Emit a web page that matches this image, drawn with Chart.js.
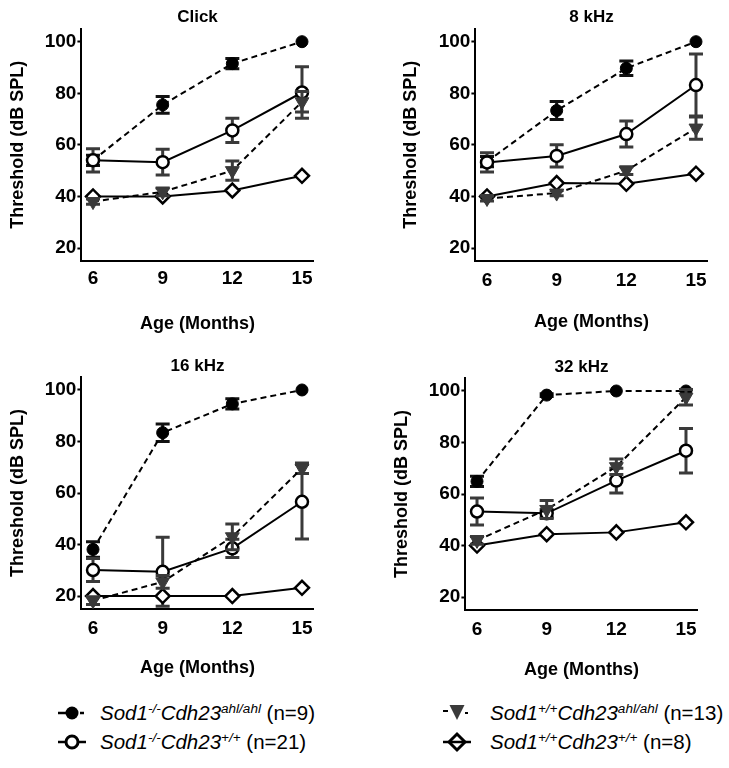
<!DOCTYPE html>
<html><head><meta charset="utf-8">
<script src="https://cdn.jsdelivr.net/npm/chart.js@4.4.1/dist/chart.umd.min.js"></script>
<style>
html,body{margin:0;padding:0;background:#fff;width:729px;height:768px;overflow:hidden;position:relative;font-family:"Liberation Sans",Arial,sans-serif}
canvas{position:absolute;display:block}
.lt{position:absolute;font-size:20.5px;line-height:24px;white-space:nowrap;color:#000}
.lt i{font-style:italic}
.lt sup{font-size:66%;position:relative;top:-0.5em;vertical-align:baseline;font-style:italic;line-height:0}
.lm{position:absolute}
</style></head><body>
<canvas id="c1" width="364" height="345" style="left:0;top:0"></canvas>
<canvas id="c2" width="365" height="345" style="left:364px;top:0"></canvas>
<canvas id="c3" width="364" height="345" style="left:0;top:340px"></canvas>
<canvas id="c4" width="365" height="345" style="left:364px;top:340px"></canvas>

<svg class="lm" style="left:52px;top:701px" width="40" height="24" viewBox="-20 -12 40 24">
  <line x1="-14" y1="0" x2="-6" y2="0" stroke="#000" stroke-width="2.5"/>
  <line x1="8" y1="0" x2="12" y2="0" stroke="#000" stroke-width="2.5"/>
  <circle cx="0" cy="0" r="6.5" fill="#000"/>
</svg>
<div class="lt" style="left:100px;top:701px"><i>Sod1</i><sup>-/-</sup><i>Cdh23</i><sup>ahl/ahl</sup> (n=9)</div>

<svg class="lm" style="left:52px;top:730px" width="40" height="24" viewBox="-20 -12 40 24">
  <line x1="-14" y1="0" x2="14" y2="0" stroke="#000" stroke-width="2.5"/>
  <circle cx="0" cy="0" r="6" fill="#fff" stroke="#000" stroke-width="3"/>
</svg>
<div class="lt" style="left:100px;top:730px"><i>Sod1</i><sup>-/-</sup><i>Cdh23</i><sup>+/+</sup> (n=21)</div>

<svg class="lm" style="left:437px;top:701px" width="40" height="24" viewBox="-20 -12 40 24">
  <line x1="-14" y1="-2" x2="-9" y2="-2" stroke="#000" stroke-width="2"/>
  <line x1="8" y1="0" x2="11" y2="0" stroke="#000" stroke-width="2"/>
  <polygon points="-7.5,-8 7.5,-8 0,7" fill="#3a3a3a"/>
</svg>
<div class="lt" style="left:490px;top:701px"><i>Sod1</i><sup>+/+</sup><i>Cdh23</i><sup>ahl/ahl</sup> (n=13)</div>

<svg class="lm" style="left:437px;top:730px" width="40" height="24" viewBox="-20 -12 40 24">
  <polygon points="-8,0 0,-8 8,0 0,8" fill="#fff" stroke="#000" stroke-width="3"/>
  <line x1="-14" y1="0" x2="14" y2="0" stroke="#000" stroke-width="2.5"/>
</svg>
<div class="lt" style="left:490px;top:730px"><i>Sod1</i><sup>+/+</sup><i>Cdh23</i><sup>+/+</sup> (n=8)</div>

<script>
// ---- data ----
const months = [6, 9, 12, 15];
const yTicks = [20, 40, 60, 80, 100];
const panelTitles = ['Click', '8 kHz', '16 kHz', '32 kHz'];

// Click
const clickKoAhl = [54, 75.5, 91.5, 100];
const clickKoAhlErr = [2, 3.2, 2, 0];
const clickKoWt = [54, 53.3, 65.6, 80.3];
const clickKoWtErr = [4.5, 5, 4.7, 10];
const clickWtAhl = [38, 41.8, 50, 76.7];
const clickWtAhlErr = [1, 1.5, 3.7, 4];
const clickWtWt = [40, 40, 42.3, 48];
const clickWtWtErr = [0, 0, 0, 0];

// 8 kHz
const k8KoAhl = [53.5, 73.3, 89.7, 100];
const k8KoAhlErr = [2, 3.5, 2.8, 0];
const k8KoWt = [53.2, 55.7, 64.2, 83.2];
const k8KoWtErr = [3.7, 4.3, 5, 12];
const k8WtAhl = [39.2, 41.3, 50, 66.5];
const k8WtAhlErr = [1, 1, 1.5, 4.3];
const k8WtWt = [40, 45.2, 44.9, 48.8];
const k8WtWtErr = [0, 0, 0, 0];

// 16 kHz
const k16KoAhl = [38.1, 83.4, 94.6, 100];
const k16KoAhlErr = [3, 3.4, 2, 0];
const k16KoWt = [30.1, 29.4, 38.5, 56.6];
const k16KoWtErr = [4.5, 13.4, 3.5, 14.5];
const k16WtAhl = [18.2, 25.5, 43, 69.6];
const k16WtAhlErr = [1.5, 2.5, 5, 2];
const k16WtWt = [20, 20, 20, 23.2];
const k16WtWtErr = [0, 0, 0, 0];

// 32 kHz
const k32KoAhl = [64.9, 98.4, 100, 100];
const k32KoAhlErr = [2, 0.5, 0, 0];
const k32KoWt = [53.2, 52.5, 65.2, 76.8];
const k32KoWtErr = [5.2, 1.5, 4.8, 8.6];
const k32WtAhl = [42, 54, 70.6, 97.6];
const k32WtAhlErr = [1.5, 3.5, 3, 3];
const k32WtWt = [40, 44.4, 45.1, 49];
const k32WtWtErr = [0, 0, 0, 0];

// ---- rendering ----
const FONT = '"Liberation Sans", Arial, sans-serif';
const ERR_COLOR = '#3a3a3a';

const errorBarPlugin = {
  id: 'errbars',
  beforeDatasetDraw(chart, args) {
    const ds = chart.data.datasets[args.index];
    if (!ds.errors) return;
    const ctx = chart.ctx, xs = chart.scales.x, ys = chart.scales.y;
    ctx.save();
    ctx.strokeStyle = ds.errColor || ERR_COLOR;
    ctx.lineWidth = 3;
    ds.data.forEach((p, i) => {
      const e = ds.errors[i];
      if (!e) return;
      const px = xs.getPixelForValue(p.x);
      const top = ys.getPixelForValue(p.y + e);
      const bot = ys.getPixelForValue(p.y - e);
      ctx.beginPath();
      ctx.moveTo(px, top); ctx.lineTo(px, bot);
      ctx.moveTo(px - 7, top); ctx.lineTo(px + 7, top);
      ctx.moveTo(px - 7, bot); ctx.lineTo(px + 7, bot);
      ctx.stroke();
    });
    ctx.restore();
  }
};

function pts(arr) { return months.map((m, i) => ({x: m, y: arr[i]})); }

function datasets(koAhl, koAhlErr, koWt, koWtErr, wtAhl, wtAhlErr, wtWt, wtWtErr) {
  return [
    { // Sod1+/+ Cdh23 ahl/ahl - triangle (top)
      data: pts(wtAhl), errors: wtAhlErr, errColor: '#3a3a3a',
      borderColor: '#000', borderWidth: 2, borderDash: [6, 4],
      pointStyle: 'triangle', rotation: 180, pointRadius: 8,
      pointBackgroundColor: '#3a3a3a', pointBorderColor: '#3a3a3a', pointBorderWidth: 1
    },
    { // Sod1+/+ Cdh23 +/+ - diamond
      data: pts(wtWt), errors: wtWtErr, errColor: '#000',
      borderColor: '#000', borderWidth: 2,
      pointStyle: 'rectRot', pointRadius: 7,
      pointBackgroundColor: '#fff', pointBorderColor: '#000', pointBorderWidth: 2.5
    },
    { // Sod1-/- Cdh23 +/+ - open circle
      data: pts(koWt), errors: koWtErr, errColor: '#3a3a3a',
      borderColor: '#000', borderWidth: 2,
      pointStyle: 'circle', pointRadius: 6,
      pointBackgroundColor: '#fff', pointBorderColor: '#000', pointBorderWidth: 2.5
    },
    { // Sod1-/- Cdh23 ahl/ahl - filled circle (bottom)
      data: pts(koAhl), errors: koAhlErr, errColor: '#111',
      borderColor: '#000', borderWidth: 2, borderDash: [6, 4],
      pointStyle: 'circle', pointRadius: 6,
      pointBackgroundColor: '#000', pointBorderColor: '#000', pointBorderWidth: 1
    }
  ];
}

function makePanel(id, title, dsets, L) {
  new Chart(document.getElementById(id), {
    type: 'line',
    data: {datasets: dsets},
    plugins: [errorBarPlugin],
    options: {
      responsive: false, animation: false, events: [],
      clip: false,
      layout: {autoPadding: false, padding: {left: 0, right: L.padRight, top: 0, bottom: L.padBottom}},
      plugins: {
        legend: {display: false}, tooltip: {enabled: false},
        title: {display: true, text: title, color: '#000', fullSize: false,
          font: {family: FONT, size: 17, weight: 'bold', lineHeight: 1.2},
          padding: {top: L.titleTop, bottom: L.titleBottom}}
      },
      scales: {
        x: {
          type: 'linear', min: 5.5, max: 15.5,
          afterBuildTicks: s => { s.ticks = months.map(v => ({value: v})); },
          afterFit: s => { s.height = L.xH; },
          ticks: {color: '#000', font: {family: FONT, size: 19, weight: 'bold', lineHeight: 1.2},
            padding: L.xTickPad, maxRotation: 0, autoSkip: false},
          grid: {display: false, drawTicks: false},
          border: {display: true, color: '#000', width: 2},
          title: {display: true, text: 'Age (Months)', color: '#000',
            font: {family: FONT, size: 18, weight: 'bold', lineHeight: 1.2}, padding: {top: 0, bottom: 0}}
        },
        y: {
          type: 'linear', min: 15, max: 105,
          afterBuildTicks: s => { s.ticks = yTicks.map(v => ({value: v})); },
          afterFit: s => { s.width = L.left; },
          ticks: {color: '#000', font: {family: FONT, size: 19, weight: 'bold', lineHeight: 1.2}, padding: 1},
          grid: {display: true, drawOnChartArea: false, drawTicks: true, tickLength: 4,
            tickColor: '#000', tickWidth: 2, color: '#000'},
          border: {display: true, color: '#000', width: 2},
          title: {display: true, text: 'Threshold (dB SPL)', color: '#000',
            font: {family: FONT, size: 18, weight: 'bold', lineHeight: 1.2}, padding: {top: L.yTitlePad, bottom: 0}}
        }
      }
    }
  });
}

makePanel('c1', panelTitles[0],
  datasets(clickKoAhl, clickKoAhlErr, clickKoWt, clickKoWtErr, clickWtAhl, clickWtAhlErr, clickWtWt, clickWtWtErr),
  {left: 81.4, padRight: 50.4, titleTop: 7.3, titleBottom: 1.1, xH: 73.9, padBottom: 10.2, xTickPad: 6.3, yTitlePad: 7.2});
makePanel('c2', panelTitles[1],
  datasets(k8KoAhl, k8KoAhlErr, k8KoWt, k8KoWtErr, k8WtAhl, k8WtAhlErr, k8WtWt, k8WtWtErr),
  {left: 111.4, padRight: 21.4, titleTop: 7.3, titleBottom: 1.1, xH: 72.2, padBottom: 11.9, xTickPad: 8.0, yTitlePad: 35.9});
makePanel('c3', panelTitles[2],
  datasets(k16KoAhl, k16KoAhlErr, k16KoWt, k16KoWtErr, k16WtAhl, k16WtAhlErr, k16WtWt, k16WtWtErr),
  {left: 81.4, padRight: 50.4, titleTop: 16.5, titleBottom: 0.2, xH: 70.2, padBottom: 5.9, xTickPad: 8.3, yTitlePad: 7.5});
makePanel('c4', panelTitles[3],
  datasets(k32KoAhl, k32KoAhlErr, k32KoWt, k32KoWtErr, k32WtAhl, k32WtAhlErr, k32WtWt, k32WtWtErr),
  {left: 101.4, padRight: 31.4, titleTop: 17.1, titleBottom: 0.6, xH: 70.9, padBottom: 4.2, xTickPad: 8.3, yTitlePad: 27.5});
</script>
</body></html>
